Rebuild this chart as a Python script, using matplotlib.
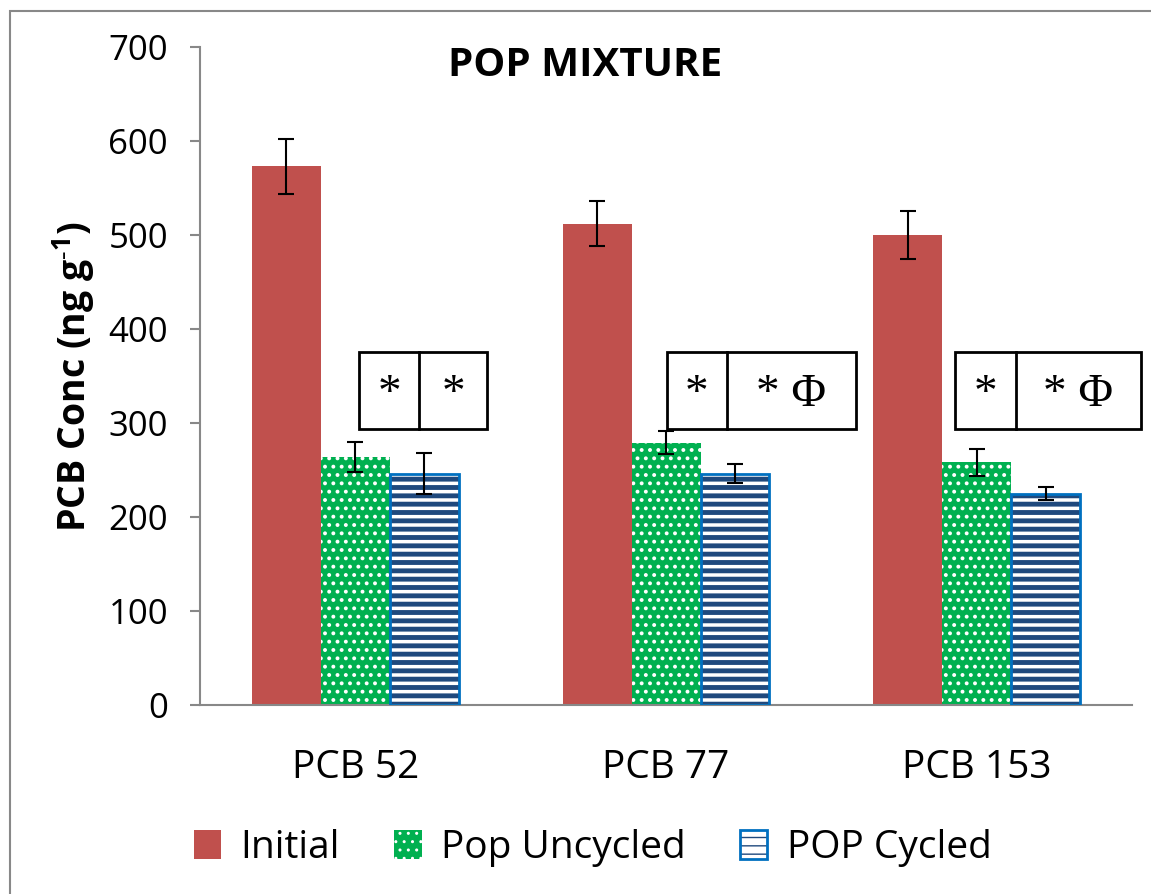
import numpy as np
import matplotlib
matplotlib.use('Agg')
import matplotlib.pyplot as plt
from matplotlib.patches import Rectangle
from matplotlib.legend_handler import HandlerTuple

# data
categories = ["PCB 52", "PCB 77", "PCB 153"]
initial = [573, 512, 500]
initial_err = [29, 24, 26]
uncycled = [264, 279, 258]
uncycled_err = [16, 12, 14]
cycled = [246, 246, 225]
cycled_err = [22, 10, 7]

# significance boxes: (left, divider, right) relative to the group centre
box_edges = [(0.013, 0.206, 0.424), (0.003, 0.196, 0.611), (-0.069, 0.125, 0.53)]
box_left_txt = ["*", "*", "*"]
box_right_txt = ["*", "* \u03A6", "* \u03A6"]
box_y = (293.6, 375.5)
box_txt_base = 318

plt.rcParams['font.family'] = ['Open Sans', 'DejaVu Sans']
plt.rcParams['mathtext.default'] = 'regular'

fig = plt.figure(figsize=(11.51, 8.94), dpi=100)
ax = fig.add_axes([0.1738, 0.2114, 0.8097, 0.736])

x = np.arange(len(categories))
w = 0.222

red = '#C0504D'
green = '#00B050'
navy = '#1F497D'
blue_edge = '#0070C0'

b1 = ax.bar(x - w, initial, w, color=red, linewidth=0, zorder=2)

with plt.rc_context({'hatch.linewidth': 1.6}):
    b2 = ax.bar(x, uncycled, w, facecolor=green, edgecolor='white', hatch='..',
                linewidth=0, zorder=2)
with plt.rc_context({'hatch.linewidth': 3.5}):
    b3 = ax.bar(x + w, cycled, w, facecolor='white', edgecolor=navy, hatch='--',
                linewidth=0, zorder=2)
b3o = ax.bar(x + w, cycled, w, facecolor='none', edgecolor=blue_edge, linewidth=2, zorder=3)

ekw = dict(fmt='none', ecolor='black', elinewidth=1.5, capsize=6, capthick=1.5, zorder=4)
ax.errorbar(x - w, initial, yerr=initial_err, **ekw)
ax.errorbar(x, uncycled, yerr=uncycled_err, **ekw)
ax.errorbar(x + w, cycled, yerr=cycled_err, **ekw)

# significance boxes
for i, (l, d, r) in enumerate(box_edges):
    y0, y1 = box_y
    ax.add_patch(Rectangle((i + l, y0), r - l, y1 - y0, fill=False, edgecolor='black',
                           linewidth=2, clip_on=False, zorder=5))
    ax.plot([i + d, i + d], [y0, y1], color='black', linewidth=2, clip_on=False, zorder=5)
    ax.text(i + (l + d) / 2, box_txt_base, box_left_txt[i], ha='center', va='baseline',
            fontsize=34, family='Liberation Serif', clip_on=False)
    ax.text(i + (d + r) / 2, box_txt_base, box_right_txt[i], ha='center', va='baseline',
            fontsize=34, family='Liberation Serif', clip_on=False)

ax.set_xlim(-0.5, len(categories) - 0.5)
ax.set_ylim(0, 700)
ax.set_yticks(np.arange(0, 701, 100))
ax.set_xticks(x)
ax.set_xticklabels(categories, fontsize=28)
ax.tick_params(axis='x', length=0, pad=32)
ax.tick_params(axis='y', labelsize=25, length=7, color='#888888', width=1.5, pad=16)
for s in ['top', 'right']:
    ax.spines[s].set_visible(False)
for s in ['left', 'bottom']:
    ax.spines[s].set_color('#888888')
    ax.spines[s].set_linewidth(1.5)

ax.set_ylabel("PCB Conc (ng g$^{\u20101}$)", fontsize=27, fontweight='bold', labelpad=8)
ax.text(0.413, 0.9726, "POP MIXTURE", transform=ax.transAxes, ha='center', va='center',
        fontsize=29, fontweight='bold')

leg = fig.legend([b1, b2, (b3, b3o)], ["Initial", "Pop Uncycled", "POP Cycled"], loc='center',
                 bbox_to_anchor=(0.515, 0.0515), ncol=3, frameon=False, fontsize=28,
                 handlelength=0.7, handleheight=0.8, handletextpad=0.5, columnspacing=1.4,
                 handler_map={tuple: HandlerTuple(ndivide=1)})

# outer chart frame
fig.patches.append(Rectangle((10 / 1151, -0.5), 2, 0.5 + 1 - 11 / 894, transform=fig.transFigure,
                             fill=False, edgecolor='#888888', linewidth=1.5))

fig.savefig("out.png", dpi=100)
